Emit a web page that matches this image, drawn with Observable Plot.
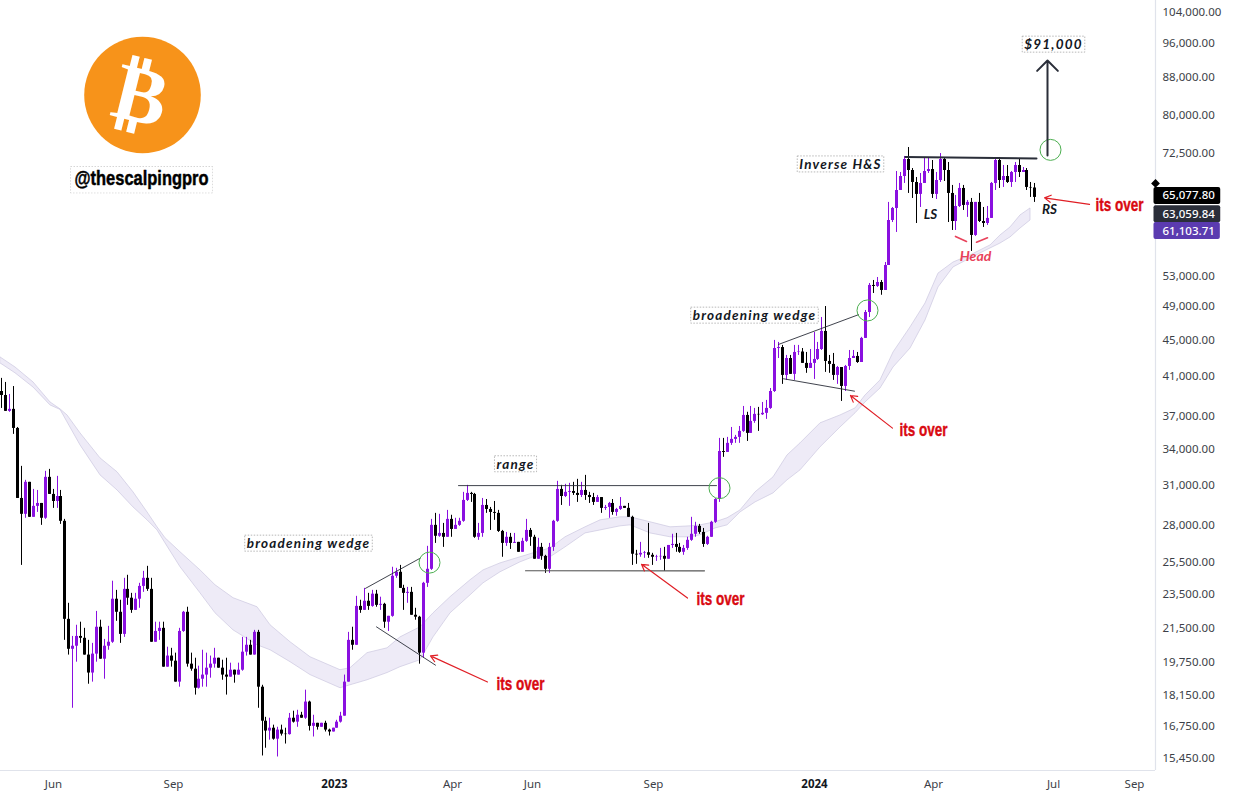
<!DOCTYPE html>
<html><head><meta charset="utf-8">
<script src="https://cdn.jsdelivr.net/npm/d3@7"></script>
<script src="https://cdn.jsdelivr.net/npm/@observablehq/plot@0.6"></script>
<style>html,body{margin:0;padding:0;background:#fff}svg{display:block}</style>
</head><body><div id="chart"></div>
<script>
// BTC/USD 3-day candles, prices in thousands of USD
const firstOpen = 39.35;
const closes = [38.95,37.40,37.59,35.80,29.93,28.74,31.19,28.52,29.33,29.55,
28.45,31.59,30.24,29.70,30.08,28.23,21.97,20.35,20.51,21.03,
20.93,20.05,19.15,20.10,21.53,19.84,20.51,20.72,23.13,22.37,
21.14,23.72,23.19,22.48,23.13,23.90,24.40,23.72,20.72,21.30,
21.47,19.44,20.00,19.74,18.71,21.30,22.37,19.59,19.34,18.42,
18.85,19.05,19.39,19.59,19.89,19.39,19.05,18.95,19.29,19.05,
19.29,20.20,20.56,20.05,21.25,18.47,16.93,16.51,16.63,16.17,
16.55,16.38,16.36,17.06,16.89,17.19,17.06,17.78,16.71,16.84,
16.67,16.84,16.55,16.47,16.63,16.89,17.15,18.71,20.82,20.56,
22.71,22.48,23.01,22.71,23.43,22.77,22.83,21.81,22.14,24.53,
24.78,23.78,23.48,23.54,22.20,22.09,20.15,24.09,24.97,27.94,
27.17,27.37,27.10,28.37,27.65,27.94,28.23,29.78,30.32,30.24,
27.10,27.37,29.40,29.10,28.88,28.81,27.51,26.68,27.10,26.68,
26.75,26.08,26.82,27.58,27.10,25.62,26.41,25.81,24.97,26.41,
28.23,30.63,30.08,30.40,30.47,30.32,30.16,30.55,30.16,30.00,
29.63,30.00,29.18,29.25,29.55,28.88,29.10,29.33,29.18,28.52,
25.95,25.90,26.01,26.05,25.88,25.75,25.78,25.81,25.62,26.54,
26.61,26.41,26.08,26.34,26.89,27.31,27.87,27.44,26.61,27.10,
28.16,29.85,33.75,33.67,34.46,34.81,34.99,35.53,37.01,35.35,
36.45,37.11,37.07,37.21,37.68,39.35,43.92,44.03,41.00,42.81,
41.11,43.48,43.53,42.28,41.74,42.28,42.71,43.81,45.88,42.49,
42.17,41.00,41.84,39.86,41.95,42.81,43.04,42.38,45.07,48.16,
51.61,51.48,52.00,50.95,54.31,60.94,62.84,65.80,68.19,71.22,
69.25,67.16,65.14,66.99,69.07,69.42,65.14,67.50,71.22,69.25,
65.30,60.78,63.16,66.14,63.33,63.82,58.65,63.82,60.78,60.47,
61.26,66.99,71.04,67.50,68.19,67.16,68.90,70.14,68.90,69.25,
66.31,66.22,64.64];
const highs = [40.69,40.27,39.05,39.85,35.89,32.49,31.35,31.19,30.63,30.55,
29.55,32.08,32.24,30.63,31.67,30.55,28.37,22.89,21.03,21.64,
21.81,21.47,20.82,20.66,22.42,21.92,20.87,21.58,24.22,23.66,
23.07,24.40,24.59,23.48,23.48,24.09,24.84,25.16,24.40,21.81,
21.81,21.81,20.46,20.40,20.15,21.47,22.42,22.66,20.15,19.89,
19.49,20.30,20.15,20.00,20.40,19.89,19.79,19.89,19.64,19.29,
19.64,20.98,20.98,20.82,21.36,21.36,18.56,17.10,17.06,16.76,
16.67,16.76,16.63,17.27,17.37,17.41,17.32,18.33,17.82,17.19,
16.84,16.84,16.93,16.59,16.63,16.97,17.32,19.05,21.25,21.53,
23.30,23.07,23.78,23.48,23.66,23.66,23.25,22.89,22.14,25.10,
25.03,25.22,23.97,23.84,23.84,22.60,22.14,24.15,26.48,28.37,
28.81,28.74,28.08,29.03,28.67,28.45,28.45,30.40,30.95,30.40,
30.32,28.08,29.93,29.85,29.25,29.70,29.03,27.58,27.44,27.37,
27.37,26.75,27.03,28.37,27.72,27.24,27.03,26.68,25.88,26.68,
28.30,31.27,30.95,31.03,31.11,31.19,31.43,31.19,31.75,30.40,
30.32,30.16,30.00,29.40,29.63,29.85,29.18,30.00,29.33,29.55,
28.60,26.21,26.75,26.14,28.08,26.01,25.88,26.34,26.41,26.54,
27.31,27.37,26.68,26.54,27.10,28.52,28.16,28.01,27.72,27.17,
28.23,29.93,34.90,34.90,34.99,35.89,35.17,35.98,37.87,37.31,
37.87,37.68,37.78,38.26,38.46,39.65,44.84,44.61,44.27,43.15,
43.15,44.27,44.27,43.92,43.48,43.81,45.76,44.61,47.55,48.90,
43.15,43.37,41.95,41.42,42.06,43.70,43.70,43.48,45.19,48.41,
51.87,52.27,52.67,52.27,54.73,63.82,63.00,69.07,68.90,71.78,
73.44,69.60,68.02,68.72,71.41,71.41,71.04,68.90,72.32,71.41,
70.68,66.65,64.97,66.99,66.65,64.14,64.47,63.82,65.30,63.00,
63.16,67.16,71.41,71.59,70.14,70.14,69.07,70.68,71.41,69.78,
69.60,67.16,66.99];
const lows = [37.68,37.40,37.31,35.26,29.93,25.22,28.45,28.52,28.52,28.88,
27.94,28.37,30.24,29.18,29.18,28.01,20.82,20.05,17.50,19.69,
20.66,20.05,18.61,18.71,19.69,19.84,18.85,20.30,20.66,21.86,
20.66,20.98,22.77,22.31,22.48,22.60,23.54,23.60,20.72,20.72,
20.82,19.44,19.44,19.44,18.71,18.47,21.25,19.44,19.24,18.10,
18.38,18.47,18.47,18.90,19.39,19.39,18.80,18.10,18.95,18.66,
19.05,19.24,20.00,20.05,20.05,17.50,15.49,15.80,16.13,16.13,
15.45,16.30,15.97,16.34,16.85,16.67,17.06,17.01,16.51,16.26,
16.55,16.67,16.47,16.30,16.47,16.63,16.85,17.15,18.71,20.30,
20.56,22.31,22.48,22.48,22.66,22.66,22.48,21.47,21.30,22.09,
24.40,23.78,22.48,22.89,22.20,21.92,19.59,19.89,23.84,24.90,
26.68,27.10,26.41,27.10,27.10,27.65,27.87,28.16,29.70,29.63,
27.03,26.89,27.10,28.81,27.58,28.30,27.44,25.75,26.48,26.27,
26.68,26.08,26.08,26.75,26.48,25.62,25.62,25.55,24.71,24.71,
26.14,28.16,29.40,30.00,29.33,30.16,29.63,30.00,29.78,29.55,
29.40,29.63,28.81,29.03,28.45,28.67,28.60,29.03,29.18,28.52,
25.22,25.29,25.75,25.68,25.68,25.22,25.48,25.55,24.84,25.62,
26.34,26.08,26.01,25.88,26.21,26.82,27.10,27.31,26.41,26.54,
27.10,28.08,29.63,33.25,33.67,34.28,34.46,34.46,35.44,34.63,
35.35,36.27,35.53,37.01,36.64,37.59,39.25,42.81,40.07,40.48,
41.11,40.48,43.15,42.28,41.22,41.74,40.58,42.60,43.70,41.32,
41.22,40.48,40.07,38.36,39.35,41.53,42.81,42.28,42.38,45.07,
47.55,50.56,51.35,50.33,50.95,54.31,60.62,59.10,65.80,66.99,
65.30,64.47,60.47,63.00,66.99,68.72,64.47,64.30,67.16,67.33,
60.62,59.40,59.40,63.00,62.52,61.42,56.30,58.50,60.62,59.86,
60.17,61.26,65.80,66.14,66.31,66.99,66.31,67.16,68.02,68.90,
65.80,64.64,63.82];

// Moving-average ribbon, sampled at candle numbers
const bandAt = [-0.3,3.5,8,12.4,14.9,16.7,20,25,29.3,33.4,37,39.5,41.5,45.3,50.4,54.2,58.8,64.9,68.1,73.2,78.3,85.9,88.4,92.7,97.8,101.1,106.2,109.5,113.8,118.9,122.2,126.5,131.5,134.9,139.2,143,148,151.8,156.9,159.5,164.5,169.6,174.7,177.2,181,184,187.3,191.1,195.7,199.3,202.6,207.6,212.7,216.5,219,222.8,226.1,230.5,234.3,237.6,241.4,245.7,250.8,253.3,255.8,258.3,261];
const bandTop = [42.93,41.84,40.27,38.26,37.59,37.01,35.35,33.16,32.00,30.40,28.88,27.80,27.03,26.08,24.90,23.97,23.19,22.66,21.64,20.72,19.94,19.29,19.39,20.15,20.40,20.98,21.53,22.31,23.25,24.28,24.90,25.35,25.75,26.01,26.34,27.10,27.80,28.30,28.52,28.52,28.16,27.80,27.87,27.94,28.16,28.45,29.03,30.40,31.59,33.41,34.46,36.27,37.01,37.68,38.95,40.48,43.48,46.36,49.28,53.20,54.73,55.72,57.17,58.65,59.86,61.73,62.84];
const bandBot = [42.28,41.22,39.75,37.97,37.54,36.36,34.28,31.75,30.55,29.25,28.30,27.58,26.68,25.10,23.48,22.31,21.36,20.56,20.30,19.69,19.05,18.42,18.56,18.80,19.15,19.44,19.79,20.98,22.31,23.36,24.09,24.78,25.42,25.75,25.75,26.41,27.37,27.58,27.87,27.94,27.37,27.10,27.10,27.24,27.72,27.94,28.88,29.63,30.32,31.35,32.16,34.11,35.89,37.21,38.26,39.65,41.84,43.92,47.19,51.35,54.04,55.30,56.73,57.45,58.35,59.70,60.94];

const yTicks = [104000,96000,88000,80000,72500,53000,49000,45000,41000,37000,34000,31000,28000,25500,23500,21500,19750,18150,16750,15450];
const monthTicks = [["2022-06-01","Jun"],["2022-09-01","Sep"],["2023-04-01","Apr"],["2023-06-01","Jun"],["2023-09-01","Sep"],["2024-04-01","Apr"],["2024-07-01","Jul"],["2024-09-01","Sep"]];
const yearTicks = [["2023-01-01","2023"],["2024-01-01","2024"]];

// Annotations: [candle number, price in thousands]
const trendThin = [
  [[92.2,23.78],[106.2,25.70]],
  [[95,21.55],[110,19.54]],
  [[115.9,30.93],[181.3,30.93]],
  [[197,44.38],[217.3,47.89]],
  [[198.3,40.65],[216.3,39.38]]
];
const trendGrey = [[132.9,24.88],[178.2,24.87]];
const neckline = [[229.2,71.67],[262.3,71.41]];
const circles = [[108.5,25.40],[181.9,30.73],[219.5,48.41],[265.9,73.0]];
const redArrows = [[123.3,18.72,108.7,20.01],[173.8,23.2,162.2,25.29],[226,35.83,215.2,38.95],[275.9,63.49,264.4,64.57]];
const headArc = [[[242,58.5],[244.6,57.75]],[[247.2,57.65],[249.9,58.3]]];
const overLabels = [[125.5,18.6],[176.2,23.13],[227.7,35.62],[277.4,63.3]];
const boxedLabels = [["broadening wedge",77.9,26.65],["range",130.3,32.65],["broadening wedge",191,47.75],["Inverse H&S",212.7,70.3],["$91,000",266.7,95.5]];
const plainLabels = [["LS",235.5,61.9],["RS",265.7,62.7]];
const priceTags = [[65077.80,"#000000",1],[63059.84,"#2a2e39",7],[61103.71,"#5b3bb0",11.5]];

const start = Date.UTC(2022,3,23);
const DAY = 864e5;
const pos = i => new Date(start + i*3*DAY);
const rows = closes.map((c,i)=>({
  date: pos(i), open:(i?closes[i-1]:firstOpen)*1000, close:c*1000, high:highs[i]*1000, low:lows[i]*1000
}));
const PURPLE="#8a10e0", BLACK="#000";
const col = d => d.close>=d.open?PURPLE:BLACK;
const band = bandAt.map((b,i)=>({date:pos(b),top:bandTop[i]*1000,bot:bandBot[i]*1000}));
const seg = (pts,opts)=>Plot.line(pts,{x:d=>pos(d[0]),y:d=>d[1]*1000,...opts});
const note=(list,opts)=>Plot.text(list,{x:d=>pos(d[1]),y:d=>d[2]*1000,text:d=>d[0],...opts});
const italic={fontFamily:"Lato",fontStyle:"italic",fontWeight:700,fill:"#131722"};
const domainX=[new Date(start-DAY),new Date(start+877.8*DAY)];
const rightEdge=domainX[1];

const chart = Plot.plot({
  width:1234,height:799,marginTop:0,marginLeft:0,marginRight:79,marginBottom:29,
  style:{background:"#fff",fontFamily:"Noto Sans",overflow:"visible"},
  x:{type:"utc",domain:domainX,round:true},
  y:{type:"log",domain:[14925,106967]},
  marks:[
    Plot.areaY(band,{x:"date",y1:"top",y2:"bot",fill:"#eeebf7",stroke:"#cbc7df",strokeWidth:0.7}),
    Plot.ruleX(rows,{x:"date",y1:"low",y2:"high",stroke:col,strokeWidth:1}),
    Plot.ruleX(rows,{x:"date",y1:"open",y2:"close",stroke:col,strokeWidth:3}),
    ...trendThin.map(t=>seg(t,{stroke:"#2a2e39",strokeWidth:0.9})),
    seg(trendGrey,{stroke:"#555",strokeWidth:1.1}),
    seg(neckline,{stroke:"#2a2e39",strokeWidth:2}),
    Plot.dot(circles,{x:d=>pos(d[0]),y:d=>d[1]*1000,r:10.5,fill:"none",stroke:"#4caf50",strokeWidth:1}),
    Plot.arrow([[265.1,71.96,265.1,91.75]],{x1:d=>pos(d[0]),y1:d=>d[1]*1000,x2:d=>pos(d[2]),y2:d=>d[3]*1000,stroke:"#2a2e39",strokeWidth:2,headAngle:90,headLength:11,bend:0}),
    Plot.arrow(redArrows,{x1:d=>pos(d[0]),y1:d=>d[1]*1000,x2:d=>pos(d[2]),y2:d=>d[3]*1000,stroke:"#e01f26",strokeWidth:1.2,headAngle:60,headLength:9,bend:0}),
    ...headArc.map(t=>seg(t,{stroke:"#e8415a",strokeWidth:1.6})),
    Plot.text(overLabels,{x:d=>pos(d[0]),y:d=>d[1]*1000,text:()=>"its over",textAnchor:"start",fill:"#d90a12",stroke:"#d90a12",strokeWidth:0.4,fontFamily:"Liberation Sans",fontWeight:700,fontSize:18,className:"over"}),
    note(boxedLabels,{...italic,fontSize:13.5,className:"boxed"}),
    note(plainLabels,{...italic,fontSize:13.5}),
    note([["Head",246.9,55.6]],{...italic,fill:"#e8415a",fontSize:14}),
    // Logo
    Plot.dot([[35.6,84.0]],{x:d=>pos(d[0]),y:d=>d[1]*1000,r:58.3,fill:"#f7931a"}),
    Plot.text([[35.2,83.7]],{x:d=>pos(d[0]),y:d=>d[1]*1000,text:()=>"₿",rotate:14,fill:"#fff",fontFamily:"DejaVu Sans",fontWeight:700,fontSize:80}),
    note([["@thescalpingpro",35.4,67.85]],{fill:"#000",stroke:"#000",strokeWidth:0.5,fontFamily:"Liberation Sans",fontWeight:700,fontSize:21,className:"handle"}),
    // Axes
    Plot.ruleX([rightEdge],{stroke:"#e0e3eb",strokeWidth:1.2}),
    Plot.ruleY([14925],{stroke:"#e0e3eb",strokeWidth:1.2}),
    Plot.axisY({anchor:"right",ticks:yTicks,tickSize:0,tickPadding:7,dy:1,tickFormat:d3.format(",.2f"),label:null,fontSize:11.5,fill:"#3c3f48",fontFamily:"Noto Sans"}),
    Plot.axisX({anchor:"bottom",ticks:monthTicks.map(d=>new Date(d[0])),tickSize:0,tickPadding:9,tickFormat:d=>monthTicks.find(m=>+new Date(m[0])===+d)[1],label:null,fontSize:11.5,fill:"#3c3f48",fontFamily:"Noto Sans"}),
    Plot.axisX({anchor:"bottom",ticks:yearTicks.map(d=>new Date(d[0])),tickSize:0,tickPadding:9,tickFormat:d=>yearTicks.find(m=>+new Date(m[0])===+d)[1],label:null,fontSize:11.5,fontWeight:700,fill:"#131722",fontFamily:"Noto Sans"}),
    // Last-price tags
    ...priceTags.map(t=>Plot.text([t],{frameAnchor:"right",y:d=>d[0],dy:t[2],dx:7,textAnchor:"start",text:d=>d3.format(",.2f")(d[0]),fill:"#fff",fontFamily:"Noto Sans",fontSize:11.5,fontWeight:500,className:"tag",title:()=>t[1]})),
    Plot.dot([0],{x:()=>rightEdge,y:()=>67000,symbol:"diamond2",r:3,fill:"#000",stroke:"#000"})
  ]
});
document.getElementById("chart").appendChild(chart);

// Frames behind labels and price tags, sized from the rendered text
const NS="http://www.w3.org/2000/svg";
function addRect(t,pad,attrs){
  const b=t.getBBox();
  const r=document.createElementNS(NS,"rect");
  r.setAttribute("x",b.x-pad[0]);r.setAttribute("y",b.y-pad[1]);
  r.setAttribute("width",b.width+pad[0]+pad[2]);r.setAttribute("height",attrs.h||b.height+2*pad[1]);
  if(t.getAttribute("transform")) r.setAttribute("transform",t.getAttribute("transform"));
  for(const k in attrs) if(k!=="h") r.setAttribute(k,attrs[k]);
  t.parentNode.insertBefore(r,t);
}
const dash={fill:"#fff",stroke:"#9a9a9a","stroke-width":0.7,"stroke-dasharray":"1.5 1.5"};
chart.querySelectorAll(".over text").forEach(t=>{
  t.setAttribute("textLength",48);t.setAttribute("lengthAdjust","spacingAndGlyphs");
});
chart.querySelectorAll(".boxed text").forEach(t=>{
  t.style.letterSpacing="1.2px";
  addRect(t,[2,0,2],dash);
});
chart.querySelectorAll(".handle text").forEach(t=>{
  // anchor start so the squeezed width stays inside its frame
  const w=134, b0=t.getBBox();
  t.setAttribute("text-anchor","start");
  t.setAttribute("x",-w/2);
  t.setAttribute("textLength",w);t.setAttribute("lengthAdjust","spacingAndGlyphs");
  const r=document.createElementNS(NS,"rect");
  r.setAttribute("x",-w/2-4);r.setAttribute("y",b0.y+0.5);
  r.setAttribute("width",w+8);r.setAttribute("height",26);
  r.setAttribute("transform",t.getAttribute("transform"));
  for(const k in dash) r.setAttribute(k,dash[k]);
  t.parentNode.insertBefore(r,t);
});
chart.querySelectorAll(".tag text").forEach(t=>{
  const tl=t.querySelector("title");
  const color=tl?tl.textContent:"#000"; if(tl) tl.remove();
  addRect(t,[9,0.5,5],{fill:color,rx:2,h:17});
});
</script></body></html>
